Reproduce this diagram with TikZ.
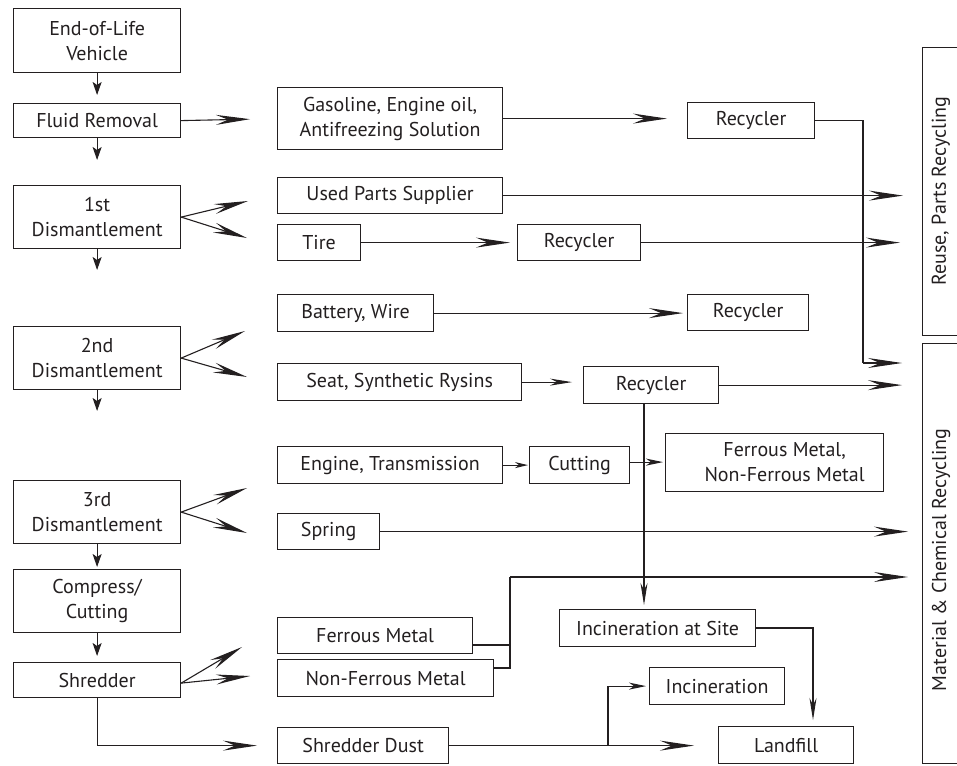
\documentclass[tikz,border=0pt]{standalone}
\usepackage{fontspec}
\setmainfont{PT Sans}
\usetikzlibrary{arrows.meta,calc}
\definecolor{ink}{RGB}{35,31,32}
\begin{document}
\begin{tikzpicture}[x=1pt,y=-1pt,
  box/.style={draw=ink,line width=1.2pt,inner sep=0pt,anchor=north west,text=ink,font=\fontsize{20}{25}\selectfont,align=center},
  conn/.style={draw=ink,line width=1.1pt},
  bigarrow/.style={conn,-{Stealth[length=34pt,width=10pt,inset=12pt]}},
  midarrow/.style={conn,-{Stealth[length=22pt,width=7pt,inset=7pt]}},
  smallarrow/.style={conn,-{Stealth[length=17pt,width=7pt,inset=5pt]}},
  tinyarrow/.style={conn,-{Stealth[length=13pt,width=6pt,inset=4pt]}},
  downarrow/.style={conn,-{Stealth[length=13pt,width=9pt,inset=3pt]}},
  sidelabel/.style={rotate=90,text=ink,font=\fontsize{20}{25}\selectfont}]
\useasboundingbox (0,0) rectangle (957,765);
% left column
\node[box,minimum width=167pt,minimum height=64pt] (veh) at (13,8) {End-of-Life\\Vehicle};
\node[box,minimum width=167pt,minimum height=34pt] (fluid) at (13,103) {Fluid Removal};
\node[box,minimum width=167pt,minimum height=63pt] (dis1) at (13,185) {1st\\Dismantlement};
\node[box,minimum width=167pt,minimum height=63pt] (dis2) at (13,326) {2nd\\Dismantlement};
\node[box,minimum width=167pt,minimum height=63pt] (dis3) at (13,480) {3rd\\Dismantlement};
\node[box,minimum width=167pt,minimum height=63pt] (comp) at (13,569) {Compress/\\Cutting};
\node[box,minimum width=167pt,minimum height=35pt] (shred) at (13,662) {Shredder};
% middle column
\node[box,minimum width=225pt,minimum height=62pt] (gas) at (277,87) {Gasoline, Engine oil,\\Antifreezing Solution};
\node[box,minimum width=225pt,minimum height=36pt] (used) at (277,177) {Used Parts Supplier};
\node[box,minimum width=83pt,minimum height=36pt] (tire) at (277,224) {Tire};
\node[box,minimum width=156pt,minimum height=37pt] (bat) at (277,294) {Battery, Wire};
\node[box,minimum width=244pt,minimum height=37pt] (seat) at (277,363) {Seat, Synthetic Rysins};
\node[box,minimum width=225pt,minimum height=37pt] (eng) at (277,446) {Engine, Transmission};
\node[box,minimum width=102pt,minimum height=36pt] (spring) at (277,513) {Spring};
\node[box,minimum width=195pt,minimum height=36pt] (ferr) at (277,617) {Ferrous Metal};
\node[box,minimum width=216pt,minimum height=37pt] (nonf) at (277,659) {Non-Ferrous Metal};
\node[box,minimum width=171pt,minimum height=36pt] (dust) at (277,727) {Shredder Dust};
% right part
\node[box,minimum width=123pt,minimum height=36pt] (rec2) at (517,224) {Recycler};
\node[box,minimum width=127pt,minimum height=36pt] (rec1) at (687,102) {Recycler};
\node[box,minimum width=121pt,minimum height=36pt] (rec3) at (687,294) {Recycler};
\node[box,minimum width=135pt,minimum height=37pt] (rec4) at (583,366) {Recycler};
\node[box,minimum width=100pt,minimum height=37pt] (cut) at (529,446) {Cutting};
\node[box,minimum width=218pt,minimum height=58pt] (fm) at (665,433) {\hspace*{20pt}Ferrous Metal,\\\hspace*{20pt}Non-Ferrous Metal};
\node[box,minimum width=196pt,minimum height=37pt] (site) at (559,609) {Incineration at Site};
\node[box,minimum width=135pt,minimum height=37pt] (incin) at (649,667) {Incineration};
\node[box,minimum width=135pt,minimum height=37pt] (land) at (718,726) {\raisebox{-5pt}{Landfill}};
% category boxes
\node[box,minimum width=45pt,minimum height=288pt] (reuse) at (922,47) {};
\node[box,minimum width=45pt,minimum height=420pt] (mat) at (922,343) {};
\node[sidelabel] (reuseT) at (941,191) {Reuse, Parts Recycling};
\node[sidelabel] (matT) at (941,560) {Material \& Chemical Recycling};
% junction coordinates
\coordinate (d1u) at (248,201);
\coordinate (d1d) at (247,238);
\coordinate (d2u) at (245,331);
\coordinate (d2d) at (247,377);
\coordinate (d3u) at (247,488);
\coordinate (d3d) at (247,533);
\coordinate (shu) at (242,647);
\coordinate (shr) at (250,676);
\coordinate (j1) at (863,363);
\coordinate (r4b) at (644,403);
\coordinate (fe) at (472,645);
\coordinate (ne) at (493,668);
\coordinate (j2) at (510,577);
\coordinate (j3) at (608,745);
\coordinate (se) at (755,628);
\coordinate (lt) at (813,726);
% left column down arrows
\draw[downarrow,shorten >=8pt] (veh.south) -- (fluid.north);
\draw[downarrow,shorten >=25pt] (fluid.south) -- (dis1.north);
\draw[downarrow,shorten >=56pt] (dis1.south) -- (dis2.north);
\draw[downarrow,shorten >=69pt] (dis2.south) -- (dis3.north);
\draw[downarrow,shorten >=2pt] (dis3.south) -- (comp.north);
\draw[downarrow,shorten >=6pt] (comp.south) -- (shred.north);
% branches from left column
\draw[bigarrow,shorten >=27pt] (fluid.east) -- (gas.west);
\draw[bigarrow] (dis1.east) -- (d1u);
\draw[bigarrow] (dis1.east) -- (d1d);
\draw[bigarrow] (dis2.east) -- (d2u);
\draw[bigarrow] (dis2.east) -- (d2d);
\draw[bigarrow] (dis3.east) -- (d3u);
\draw[bigarrow] (dis3.east) -- (d3d);
\draw[bigarrow] ([yshift=-3pt]shred.east) -- (shu);
\draw[bigarrow] ([yshift=-3pt]shred.east) -- (shr);
\draw[bigarrow,shorten >=20pt] (shred.south) |- (dust.west);
% middle flows
\draw[bigarrow,shorten >=20pt] (gas.east) -- (gas.east -| rec1.west);
\draw[conn] (rec1.east) -| (j1);
\draw[bigarrow,shorten >=20pt] (j1) -- (j1 -| mat.west);
\draw[bigarrow,shorten >=19pt] (used.east) -- (used.east -| reuse.west);
\draw[bigarrow,shorten >=7pt] (tire.east) -- (rec2.west);
\draw[bigarrow,shorten >=22pt] (rec2.east) -- (rec2.east -| reuse.west);
\draw[bigarrow,shorten >=4pt] (bat.east) -- (bat.east -| rec3.west);
\draw[midarrow,shorten >=11pt] (seat.east) -- (seat.east -| rec4.west);
\draw[bigarrow,shorten >=20pt] (rec4.east) -- (rec4.east -| mat.west);
\draw[midarrow,shorten >=4pt] (r4b) -- (r4b |- site.north);
\draw[tinyarrow,shorten >=1pt] (eng.east) -- (cut.west);
\draw[smallarrow,shorten >=2pt] ([yshift=3pt]cut.east) -- ([yshift=3pt]cut.east -| fm.west);
\draw[bigarrow,shorten >=14pt] (spring.east) -- (spring.east -| mat.west);
\draw[conn] (fe) -- (fe -| j2);
\draw[conn] (ne) -| (j2);
\draw[bigarrow,shorten >=14pt] (j2) -- (j2 -| mat.west);
\draw[bigarrow,shorten >=24pt] (dust.east) -- (dust.east -| land.west);
\draw[smallarrow,shorten >=3pt] (j3) |- (incin.west);
\draw[midarrow,shorten >=6pt] (se) -| (lt);
\end{tikzpicture}
\end{document}
